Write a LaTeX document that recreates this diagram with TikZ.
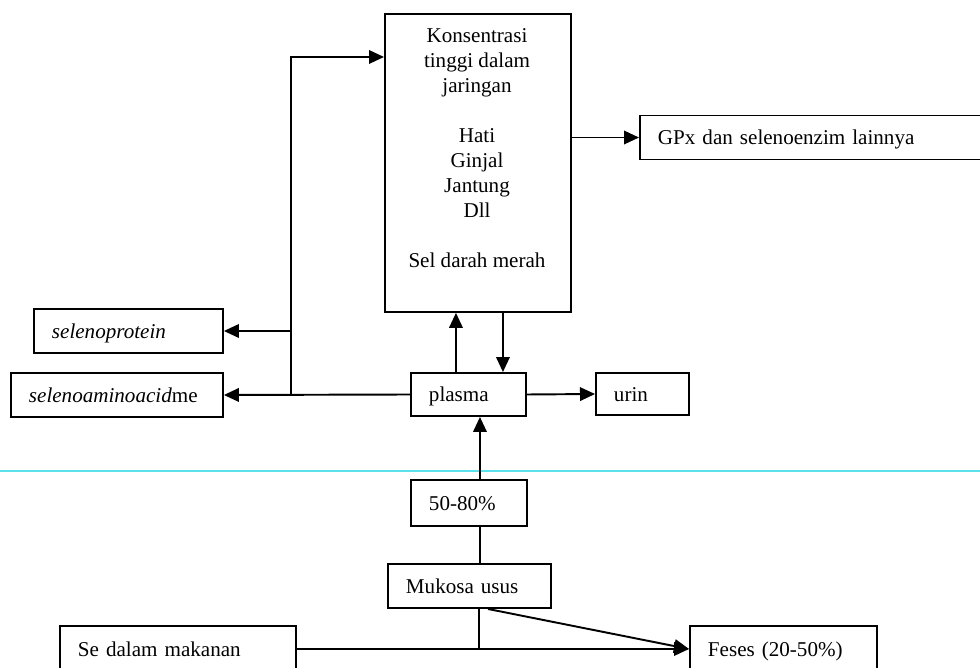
\documentclass[tikz,border=0pt]{standalone}
\usepackage{fontspec}
\setmainfont{Liberation Serif}
\usetikzlibrary{arrows.meta}
\definecolor{garisscan}{RGB}{90,225,235}
\tikzset{
  kotak/.style={draw, line width=1.1pt, align=left, anchor=west, inner xsep=0.36cm, inner ysep=0pt,
    minimum height=0.88cm, text height=8.5pt, text depth=0pt},
  panah/.style={-{Triangle[length=0.3cm,width=0.27cm]}, line width=1.1pt},
  garis/.style={line width=1.1pt}
}
\begin{document}
\begin{tikzpicture}[x=0.02cm, y=-0.02cm, font=\fontsize{12}{14.23}\selectfont]
  \useasboundingbox (0,0) rectangle (980,668);
  \clip (0,0) rectangle (980,668);
  % Scan line
  \draw[garisscan, line width=0.8pt] (0,471) -- (980,471);
  % Tissue box
  \node[kotak, minimum width=3.72cm, minimum height=5.96cm, anchor=north west] (jaringan) at (384,13) {};
  \node[align=center, anchor=north, inner sep=0pt] (jaringanteks) at (477,28)
    {Konsentrasi\\tinggi dalam\\jaringan\\[14.23pt]Hati\\Ginjal\\Jantung\\Dll\\[14.23pt]Sel darah merah};
  % Other boxes
  \node[kotak, text width=6.5cm] (gpx) at (639,137.5) {GPx dan selenoenzim lainnya};
  \node[kotak, text width=3.06cm] (protein) at (33,331) {\textit{selenoprotein}};
  \node[kotak, text width=3.52cm] (asamamino) at (10,395) {\textit{selenoaminoacid}me};
  \node[kotak, text width=1.58cm, minimum height=0.86cm] (plasma) at (410,394.5) {plasma};
  \node[kotak, text width=1.14cm, minimum height=0.84cm] (urin) at (595,394) {urin};
  \node[kotak, text width=1.6cm, minimum height=0.92cm] (persen) at (410,503) {50-80\%};
  \node[kotak, text width=2.54cm] (mukosa) at (387,586) {Mukosa usus};
  \node[kotak, text width=4.0cm, minimum height=0.92cm] (makanan) at (59,649) {Se dalam makanan};
  \node[kotak, text width=3.02cm, minimum height=0.92cm] (feses) at (689,649) {Feses (20-50\%)};
  % Plasma to the left
  \coordinate (cabang) at (291,395);
  \draw[panah] (plasma.west) -- (asamamino.east);
  \draw[panah] (cabang |- protein.east) -- (protein.east);
  \draw[panah] (cabang) |- ([yshift=-0.88cm]jaringan.north west);
  % Tissue and plasma
  \draw[panah] (jaringan.east |- gpx.west) -- (gpx.west);
  \draw[panah] ([xshift=-0.25cm]plasma.north) -- ([xshift=-0.25cm]plasma.north |- jaringan.south);
  \draw[panah] ([xshift=0.69cm]plasma.north |- jaringan.south) -- ([xshift=0.69cm]plasma.north);
  \draw[panah] (plasma.east) -- (urin.west);
  % Absorption
  \draw[panah] ([xshift=0.22cm]persen.north) -- ([xshift=0.22cm]persen.north |- plasma.south);
  \draw[garis] ([xshift=0.22cm]persen.south) -- ([xshift=0.22cm]persen.south |- mukosa.north);
  \coordinate (gabung) at (479,649);
  \draw[garis] (mukosa.south -| gabung) -- (gabung);
  \draw[panah] (makanan.east) -- (feses.west);
  \draw[panah] ([xshift=0.37cm]mukosa.south) -- (feses.west);
\end{tikzpicture}
\end{document}
